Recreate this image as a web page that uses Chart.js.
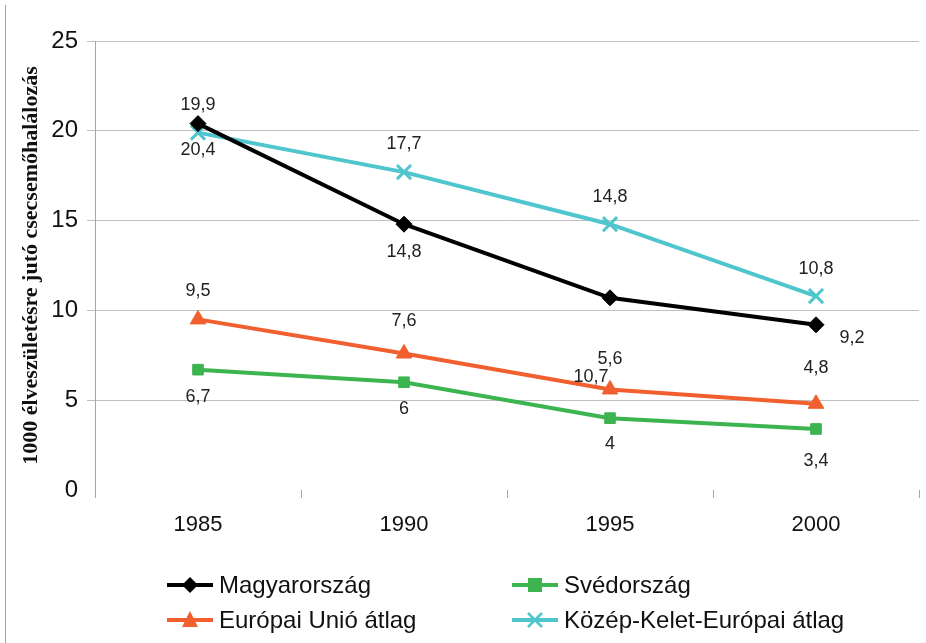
<!DOCTYPE html>
<html>
<head>
    <title>Csecsemőhalálozás</title>
    <script src="https://cdn.jsdelivr.net/npm/chart.js"></script>
    <style>
        body { margin: 0; background: #fff; font-family: "Liberation Sans", Arial, sans-serif; overflow: hidden; }
        #wrap { position: relative; width: 926px; height: 643px; overflow: hidden; }
        #frame { position: absolute; left: 5px; top: 5px; bottom: 0; border-left: 1px solid #a0a0a0; }
        #chart { position: absolute; left: 0; top: 0; }
        .legend { position: absolute; display: flex; align-items: center; font-size: 24px; color: #111; }
        .legend svg { margin-right: 6px; }
    </style>
</head>
<body>
<div id="wrap">
    <div id="frame"></div>
    <canvas id="chart" width="932" height="643"></canvas>
    <div id="legend"></div>
</div>

<script>
    // adatok
    const years = ['1985', '1990', '1995', '2000'];
    const magyar = [20.4, 14.8, 10.7, 9.2];
    const sved = [6.7, 6, 4, 3.4];
    const eu = [9.5, 7.6, 5.6, 4.8];
    const kke = [19.9, 17.7, 14.8, 10.8];
    const yTicks = [0, 5, 10, 15, 20, 25];

    const colors = { magyar: '#000000', sved: '#3cb44f', eu: '#f15f2e', kke: '#4fc5cd' };

    // címke elhelyezés: [dx, dy] a ponthoz képest
    const labelOffsets = {
        magyar: [[0, 26], [0, 28], [-19, 79], [36, 13]],
        sved: [[0, 27], [0, 27], [0, 26], [0, 32]],
        eu: [[0, -28], [0, -32], [0, -30], [0, -36]],
        kke: [[0, -28], [0, -28], [0, -27], [0, -27]]
    };

    const dataLabels = {
        id: 'dataLabels',
        afterDatasetsDraw(chart) {
            const ctx = chart.ctx;
            ctx.save();
            ctx.font = '18px "Liberation Sans", Arial, sans-serif';
            ctx.fillStyle = '#222';
            ctx.textAlign = 'center';
            ctx.textBaseline = 'middle';
            chart.data.datasets.forEach((ds, i) => {
                const meta = chart.getDatasetMeta(i);
                meta.data.forEach((pt, j) => {
                    const off = labelOffsets[ds.key][j];
                    ctx.fillText(String(ds.data[j]).replace('.', ','), pt.x + off[0], pt.y + off[1]);
                });
            });
            ctx.restore();
        }
    };

    function series(key, label, data, pointStyle, radius) {
        return {
            key: key,
            label: label,
            data: data,
            borderColor: colors[key],
            backgroundColor: colors[key],
            borderWidth: 4,
            pointStyle: pointStyle,
            pointRadius: radius,
            pointBorderWidth: pointStyle === 'crossRot' ? 3 : 1,
            tension: 0
        };
    }

    new Chart(document.getElementById('chart'), {
        type: 'line',
        data: {
            labels: years,
            datasets: [
                series('magyar', 'Magyarország', magyar, 'rectRot', 8),
                series('sved', 'Svédország', sved, 'rect', 7.5),
                series('eu', 'Európai Unió átlag', eu, 'triangle', 9),
                series('kke', 'Közép-Kelet-Európai átlag', kke, 'crossRot', 10)
            ]
        },
        options: {
            responsive: false,
            animation: false,
            layout: { padding: { left: 18, right: 1, top: 41, bottom: 96 } },
            plugins: { legend: { display: false }, tooltip: { enabled: false } },
            scales: {
                x: {
                    offset: true,
                    grid: { offset: true, drawOnChartArea: false, drawTicks: true, tickLength: 8, color: '#a6a6a6' },
                    border: { display: false },
                    ticks: { color: '#111', font: { size: 22, family: '"Liberation Sans", Arial' }, padding: 14 },
                    afterFit(scale) { scale.height = 57; }
                },
                y: {
                    min: 0,
                    max: 25,
                    afterBuildTicks(scale) { scale.ticks = yTicks.map(v => ({ value: v })); },
                    grid: {
                        color: ctx => ctx.tick && ctx.tick.value === 0 ? 'rgba(0,0,0,0)' : '#c0c0c0',
                        tickLength: 8
                    },
                    border: { display: true, color: '#a6a6a6' },
                    ticks: { color: '#111', font: { size: 24, family: '"Liberation Sans", Arial' }, padding: 9 },
                    title: {
                        display: true,
                        text: '1000 élveszületésre jutó csecsemőhalálozás',
                        color: '#111',
                        font: { size: 22, weight: 'bold', family: '"Liberation Serif", "Times New Roman", serif' },
                        padding: { top: 0, bottom: 0 }
                    },
                    afterFit(scale) { scale.width = 77; }
                }
            }
        },
        plugins: [dataLabels]
    });

    // jelmagyarázat, két oszlopban
    const legendItems = [
        { key: 'magyar', label: 'Magyarország', shape: 'diamond', x: 167, y: 571 },
        { key: 'sved', label: 'Svédország', shape: 'square', x: 512, y: 571 },
        { key: 'eu', label: 'Európai Unió átlag', shape: 'triangle', x: 167, y: 606 },
        { key: 'kke', label: 'Közép-Kelet-Európai átlag', shape: 'cross', x: 512, y: 606 }
    ];

    function icon(shape, c) {
        let m = '';
        if (shape === 'diamond') m = `<polygon points="23,6 31,14 23,22 15,14" fill="${c}"/>`;
        if (shape === 'square') m = `<rect x="16" y="7" width="14" height="14" fill="${c}"/>`;
        if (shape === 'triangle') m = `<polygon points="23,5 31,21 15,21" fill="${c}"/>`;
        if (shape === 'cross') m = `<path d="M16,7 L30,21 M30,7 L16,21" stroke="${c}" stroke-width="2.5"/>`;
        return `<svg width="46" height="28"><line x1="0" y1="14" x2="46" y2="14" stroke="${c}" stroke-width="4"/>${m}</svg>`;
    }

    const legendEl = document.getElementById('legend');
    legendItems.forEach(it => {
        const div = document.createElement('div');
        div.className = 'legend';
        div.style.left = it.x + 'px';
        div.style.top = it.y + 'px';
        div.innerHTML = icon(it.shape, colors[it.key]) + '<span>' + it.label + '</span>';
        legendEl.appendChild(div);
    });
</script>
</body>
</html>
